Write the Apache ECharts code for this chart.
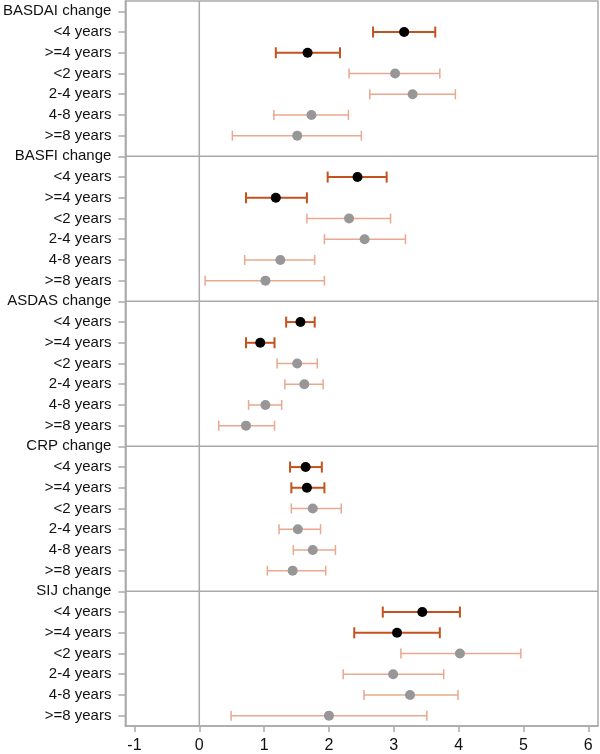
<!DOCTYPE html>
<html>
<head>
<meta charset="utf-8">
<script src="https://cdn.jsdelivr.net/npm/echarts@6/dist/echarts.min.js"></script>
<style>html,body{margin:0;padding:0;background:#fff}#c{width:600px;height:754px}</style>
</head>
<body>
<div id="c"></div>
<script>
const measures = ['BASDAI change', 'BASFI change', 'ASDAS change', 'CRP change', 'SIJ change'];
const subgroups = ['<4 years', '>=4 years', '<2 years', '2-4 years', '4-8 years', '>=8 years'];
const xTicks = [-1, 0, 1, 2, 3, 4, 5, 6];

// estimates, lower and upper limits per measure (rows follow subgroups)
const estimate = [
  [3.16, 1.67, 3.02, 3.29, 1.73, 1.51],
  [2.44, 1.18, 2.31, 2.55, 1.25, 1.02],
  [1.56, 0.94, 1.51, 1.62, 1.02, 0.72],
  [1.64, 1.66, 1.75, 1.52, 1.75, 1.44],
  [3.44, 3.05, 4.02, 2.99, 3.25, 2.00]
];
const lower = [
  [2.68, 1.18, 2.31, 2.63, 1.15, 0.51],
  [1.98, 0.72, 1.66, 1.93, 0.70, 0.09],
  [1.34, 0.72, 1.20, 1.32, 0.76, 0.30],
  [1.40, 1.42, 1.42, 1.23, 1.45, 1.05],
  [2.83, 2.39, 3.11, 2.22, 2.54, 0.49]
];
const upper = [
  [3.64, 2.17, 3.71, 3.95, 2.30, 2.50],
  [2.89, 1.66, 2.95, 3.18, 1.78, 1.93],
  [1.78, 1.16, 1.82, 1.91, 1.27, 1.16],
  [1.89, 1.93, 2.19, 1.87, 2.10, 1.95],
  [4.02, 3.71, 4.96, 3.77, 3.99, 3.51]
];
const mainRows = 2; // first two subgroups are the main comparison
const referenceX = 0;

// build category list and data
const categories = [];
const darkBars = [], lightBars = [], darkPts = [], lightPts = [];
measures.forEach((m, g) => {
  categories.push(m);
  subgroups.forEach((s, i) => {
    const idx = categories.length;
    categories.push(s);
    const bar = [lower[g][i], upper[g][i], idx];
    const pt = [estimate[g][i], idx];
    if (i < mainRows) { darkBars.push(bar); darkPts.push(pt); }
    else { lightBars.push(bar); lightPts.push(pt); }
  });
});
const headerRows = measures.map((m, g) => [referenceX, g * (subgroups.length + 1)]).slice(1);

const gray = '#a9a9a9';
const font = 'Liberation Sans, Arial, sans-serif';

function errRender(color, width, cap) {
  return function (params, api) {
    const a = api.coord([api.value(0), api.value(2)]);
    const b = api.coord([api.value(1), api.value(2)]);
    const st = { stroke: color, lineWidth: width };
    return {
      type: 'group',
      children: [
        { type: 'line', shape: { x1: a[0], y1: a[1], x2: b[0], y2: b[1] }, style: st },
        { type: 'line', shape: { x1: a[0], y1: a[1] - cap, x2: a[0], y2: a[1] + cap }, style: st },
        { type: 'line', shape: { x1: b[0], y1: b[1] - cap, x2: b[0], y2: b[1] + cap }, style: st }
      ]
    };
  };
}

function sepRender(params, api) {
  const cs = params.coordSys;
  const p = api.coord([api.value(0), api.value(1)]);
  const st = { stroke: gray, lineWidth: 1.5 };
  const children = [
    { type: 'line', shape: { x1: cs.x, y1: p[1], x2: cs.x + cs.width, y2: p[1] }, style: st }
  ];
  if (params.dataIndex === 0) {
    children.push({ type: 'line', shape: { x1: p[0], y1: cs.y, x2: p[0], y2: cs.y + cs.height }, style: st });
  }
  return { type: 'group', children: children };
}

const chart = echarts.init(document.getElementById('c'), null, { renderer: 'canvas' });
chart.setOption({
  animation: false,
  backgroundColor: '#fff',
  grid: { left: 124, right: 2, top: 1, bottom: 27, show: true, borderColor: gray, borderWidth: 1.5 },
  xAxis: {
    type: 'value', min: -1.14, max: 6.15,
    axisLine: { show: true, onZero: false, lineStyle: { color: gray, width: 1.5 } },
    axisTick: { show: true, length: 6, customValues: xTicks, lineStyle: { color: gray, width: 1.5 } },
    axisLabel: { customValues: xTicks, margin: 12, fontSize: 16, color: '#111', fontFamily: font },
    splitLine: { show: false }
  },
  yAxis: {
    type: 'category', inverse: true, data: categories, boundaryGap: true,
    axisLine: { show: true, onZero: false, lineStyle: { color: gray, width: 1.5 } },
    axisTick: { show: true, alignWithLabel: true, length: 7, interval: 0, lineStyle: { color: gray, width: 1.5 } },
    axisLabel: { interval: 0, margin: 14, fontSize: 15, color: '#111', fontFamily: font },
    splitLine: { show: false }
  },
  series: [
    {
      type: 'custom', name: 'separators', renderItem: sepRender,
      data: headerRows, encode: { x: 0, y: 1 }, z: 1, silent: true
    },
    {
      type: 'custom', name: 'light CI', renderItem: errRender('#e9a88f', 1.5, 5),
      data: lightBars, encode: { x: [0, 1], y: 2 }, z: 2
    },
    {
      type: 'custom', name: 'main CI', renderItem: errRender('#c4521f', 2, 5.5),
      data: darkBars, encode: { x: [0, 1], y: 2 }, z: 3
    },
    {
      type: 'scatter', name: 'light est', data: lightPts, symbolSize: 10,
      itemStyle: { color: '#979797', opacity: 1 }, z: 4
    },
    {
      type: 'scatter', name: 'main est', data: darkPts, symbolSize: 10,
      itemStyle: { color: '#000', opacity: 1 }, z: 5
    }
  ]
});
</script>
</body>
</html>
